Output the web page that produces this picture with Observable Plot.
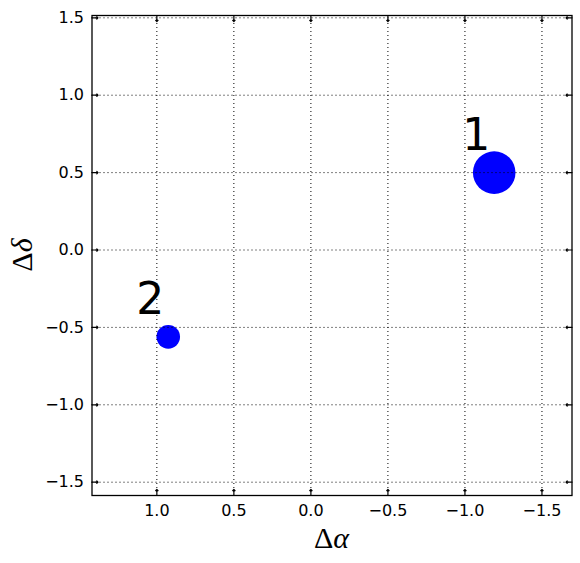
<!DOCTYPE html>
<html>
<head>
<meta charset="utf-8">
<script src="https://cdn.jsdelivr.net/npm/d3@7"></script>
<script src="https://cdn.jsdelivr.net/npm/@observablehq/plot@0.6"></script>
<style>
  html, body { margin: 0; padding: 0; background: white; }
</style>
</head>
<body>
<div id="chart"></div>
<script>
// Data
const sourceIds = ["1", "2"];
const dAlpha = [-1.19, 0.926];
const dDelta = [0.5, -0.561];
const flux = [1.0, 0.307];

const xTicks = [1.0, 0.5, 0.0, -0.5, -1.0, -1.5];
const yTicks = [1.5, 1.0, 0.5, 0.0, -0.5, -1.0, -1.5];
const xLimits = [1.421, -1.695];
const yLimits = [-1.586, 1.515];

const sources = sourceIds.map((id, i) => ({id, x: dAlpha[i], y: dDelta[i], f: flux[i]}));
const fmt = d => d.toFixed(1).replace("-", "\u2212");

const chart = Plot.plot({
  width: 580,
  height: 563,
  marginLeft: 91.5,
  marginRight: 8.5,
  marginTop: 15,
  marginBottom: 68,
  x: {domain: xLimits},
  y: {domain: yLimits},
  r: {type: "sqrt", domain: [0, 1], range: [0, 21.3]},
  style: {fontFamily: "DejaVu Sans", fontSize: "16px", background: "white", color: "black"},
  marks: [
    Plot.dot(sources, {x: "x", y: "y", r: "f", fill: "#0000ff", stroke: "none"}),
    Plot.gridX(xTicks, {stroke: "#000", strokeOpacity: 1, strokeWidth: 1, strokeDasharray: "1,3"}),
    Plot.gridY(yTicks, {stroke: "#000", strokeOpacity: 1, strokeWidth: 1, strokeDasharray: "1,3"}),
    Plot.text(sources, {x: "x", y: "y", text: "id", dx: -18, dy: -37, fontSize: 44, fill: "black", fontFamily: "DejaVu Sans"}),
    Plot.frame({stroke: "black", strokeWidth: 1.3}),
    Plot.vector(xTicks, {x: d => d, frameAnchor: "bottom", length: 6, rotate: 0, anchor: "start", stroke: "black", strokeWidth: 1.2}),
    Plot.vector(xTicks, {x: d => d, frameAnchor: "top", length: 6, rotate: 180, anchor: "start", stroke: "black", strokeWidth: 1.2}),
    Plot.vector(yTicks, {y: d => d, frameAnchor: "left", length: 6, rotate: 90, anchor: "start", stroke: "black", strokeWidth: 1.2}),
    Plot.vector(yTicks, {y: d => d, frameAnchor: "right", length: 6, rotate: -90, anchor: "start", stroke: "black", strokeWidth: 1.2}),
    Plot.axisX({ticks: xTicks, tickSize: 0, tickPadding: 9, tickFormat: fmt, label: null, fontSize: 16, fontFamily: "DejaVu Sans", fill: "black"}),
    Plot.axisY({ticks: yTicks, tickSize: 0, tickPadding: 8, tickFormat: fmt, label: null, fontSize: 16, fontFamily: "DejaVu Sans", fill: "black"})
  ]
});

document.getElementById("chart").appendChild(chart);

// Axis labels (math-style: upright Delta, italic Greek letter)
const xs = chart.scale("x").range, ys = chart.scale("y").range;
const xMid = (xs[0] + xs[1]) / 2, yMid = (ys[0] + ys[1]) / 2;
const svg = d3.select(chart);
const xl = svg.append("text")
  .attr("x", xMid).attr("y", Math.max(ys[0], ys[1]) + 53)
  .attr("text-anchor", "middle")
  .attr("font-family", "'Liberation Serif', 'DejaVu Serif', serif")
  .attr("font-size", 30);
xl.append("tspan").text("\u0394");
xl.append("tspan").attr("font-style", "italic").text("\u03b1");
const yl = svg.append("text")
  .attr("transform", `translate(${Math.min(xs[0], xs[1]) - 60},${yMid}) rotate(-90)`)
  .attr("text-anchor", "middle")
  .attr("font-family", "'Liberation Serif', 'DejaVu Serif', serif")
  .attr("font-size", 30);
yl.append("tspan").text("\u0394");
yl.append("tspan").attr("font-style", "italic").text("\u03b4");
</script>
</body>
</html>
